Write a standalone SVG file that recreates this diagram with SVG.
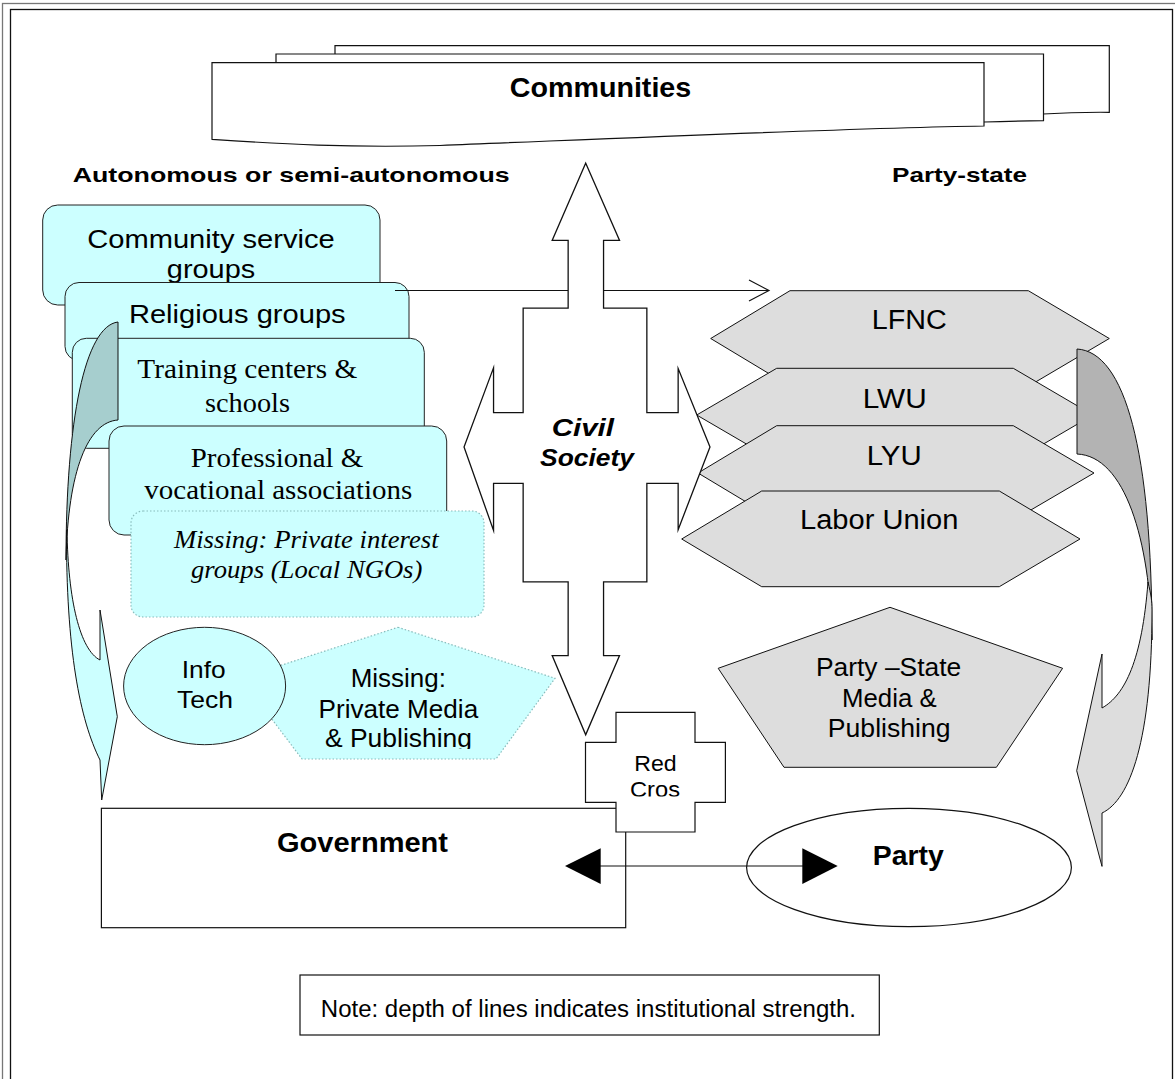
<svg xmlns="http://www.w3.org/2000/svg" width="1175" height="1079" viewBox="0 0 1175 1079">
<style>
.sans{font-family:"Liberation Sans",Arial,sans-serif;}
.serif{font-family:"Liberation Serif","Times New Roman",serif;}
.b{font-weight:bold;}
.i{font-style:italic;}
.cyan{fill:#ccffff;stroke:#222;stroke-width:1;}
.dot{fill:#ccffff;stroke:#88bcbc;stroke-width:1.2;stroke-dasharray:1.5 2;}
.gray{fill:#dddddd;stroke:#111;stroke-width:1;}
.white{fill:#ffffff;stroke:#111;stroke-width:1.2;}
.line{fill:none;stroke:#111;stroke-width:1.2;}
text{fill:#000;}
</style>
<defs>
<clipPath id="clipCros"><rect x="580" y="700" width="150" height="96.5"/></clipPath>
<clipPath id="clipPub"><rect x="230" y="620" width="340" height="129"/></clipPath>
<path id="crossShape" d="M585.7,167.7 L616.7,238.5 L601.7,238.5 L601.7,310 L645,310 L645,414.5 L680,414.5 L680,378 L708,447 L680,519.7 L680,481.5 L645,481.5 L645,580 L601.7,580 L601.7,657.5 L616.7,657.5 L585.7,730 L555,657.5 L570,657.5 L570,580 L525,580 L525,481.5 L491.7,481.5 L491.7,519.7 L466,447 L491.7,378 L491.7,414.5 L525,414.5 L525,310 L570,310 L570,238.5 L555,238.5 Z"/>
</defs>
<rect width="1175" height="1079" fill="#ffffff"/>
<g id="frame">
<rect x="2.5" y="3.5" width="1190" height="1100" fill="none" stroke="#777" stroke-width="1.3"/>
<rect x="10.5" y="9.5" width="1162" height="1090" fill="none" stroke="#111" stroke-width="1.3"/>
</g>
<g id="communities">
<path class="white" d="M335,45.7 H1109.3 V112.3 Q1075,112 1043,114 L335,114 Z"/>
<path class="white" d="M276,54 H1043.5 V120.7 Q1010,121 984,122 L276,122 Z"/>
<path class="white" d="M212,62.7 H984 V126 C850,128 650,137 440,145.5 C350,148 280,144 212,139.3 Z"/>
<text class="sans b" x="600.5" y="96.7" font-size="27" text-anchor="middle" textLength="181.5" lengthAdjust="spacingAndGlyphs">Communities</text>
</g>
<g id="heading-autonomous">
<text class="sans b" x="72.7" y="182" font-size="21" textLength="437" lengthAdjust="spacingAndGlyphs">Autonomous or semi-autonomous</text>
</g>
<g id="heading-partystate">
<text class="sans b" x="892" y="182" font-size="21" textLength="135" lengthAdjust="spacingAndGlyphs">Party-state</text>
</g>
<g id="community-service">
<rect class="cyan" x="42.7" y="205" width="337.3" height="100" rx="15"/>
<text class="sans" x="211" y="248" font-size="26" text-anchor="middle" textLength="247.7" lengthAdjust="spacingAndGlyphs">Community service</text>
<text class="sans" x="211" y="278" font-size="26" text-anchor="middle" textLength="88.3" lengthAdjust="spacingAndGlyphs">groups</text>
</g>
<g id="religious">
<rect class="cyan" x="65" y="282.5" width="344" height="78" rx="14"/>
<text class="sans" x="237.3" y="322.7" font-size="26" text-anchor="middle" textLength="216.7" lengthAdjust="spacingAndGlyphs">Religious groups</text>
</g>
<g id="training">
<rect class="cyan" x="72.3" y="338.3" width="352" height="110" rx="14"/>
<text class="serif" x="247.3" y="378.3" font-size="27" text-anchor="middle" textLength="220" lengthAdjust="spacingAndGlyphs">Training centers &amp;</text>
<text class="serif" x="247.5" y="411.7" font-size="27" text-anchor="middle" textLength="85" lengthAdjust="spacingAndGlyphs">schools</text>
</g>
<g id="professional">
<rect class="cyan" x="109" y="426" width="337.7" height="109" rx="15"/>
<text class="serif" x="277" y="466.7" font-size="27" text-anchor="middle" textLength="172.6" lengthAdjust="spacingAndGlyphs">Professional &amp;</text>
<text class="serif" x="278.3" y="499.3" font-size="27" text-anchor="middle" textLength="268" lengthAdjust="spacingAndGlyphs">vocational associations</text>
</g>
<g id="missing-interest">
<rect class="dot" x="131" y="511" width="353" height="106" rx="12"/>
<text class="serif i" x="306.3" y="548.3" font-size="25" text-anchor="middle" textLength="264.7" lengthAdjust="spacingAndGlyphs">Missing: Private interest</text>
<text class="serif i" x="306.7" y="578.3" font-size="25" text-anchor="middle" textLength="231.3" lengthAdjust="spacingAndGlyphs">groups (Local NGOs)</text>
</g>
<g id="lfnc">
<polygon class="gray" points="790,290.7 1028.3,290.7 1109.3,338.5 1028.3,386.3 790,386.3 710.7,338.5"/>
<text class="sans" x="909.2" y="329.3" font-size="27" text-anchor="middle" textLength="75" lengthAdjust="spacingAndGlyphs">LFNC</text>
</g>
<g id="lwu">
<polygon class="gray" points="776.7,368.3 1013.3,368.3 1093,415 1013.3,461.7 776.7,461.7 696.7,415"/>
<text class="sans" x="894.7" y="408.3" font-size="27" text-anchor="middle" textLength="64" lengthAdjust="spacingAndGlyphs">LWU</text>
</g>
<g id="lyu">
<polygon class="gray" points="776.7,425.7 1013.3,425.7 1094,473 1013.3,520.3 776.7,520.3 698,473"/>
<text class="sans" x="894.2" y="465" font-size="27" text-anchor="middle" textLength="55" lengthAdjust="spacingAndGlyphs">LYU</text>
</g>
<g id="labor-union">
<polygon class="gray" points="761.7,491 999.3,491 1080,539 999.3,586.7 761.7,586.7 681.7,539"/>
<text class="sans" x="879.2" y="529.3" font-size="27" text-anchor="middle" textLength="158.3" lengthAdjust="spacingAndGlyphs">Labor Union</text>
</g>
<g id="party-state-media">
<polygon class="gray" points="890,607.3 1062.6,668.3 996.4,767.3 784,767.3 718.2,668.3"/>
<text class="sans" x="888.6" y="676" font-size="25" text-anchor="middle" textLength="145.3" lengthAdjust="spacingAndGlyphs">Party –State</text>
<text class="sans" x="889.3" y="706.7" font-size="25" text-anchor="middle" textLength="94.6" lengthAdjust="spacingAndGlyphs">Media &amp;</text>
<text class="sans" x="889.2" y="736.7" font-size="25" text-anchor="middle" textLength="122.7" lengthAdjust="spacingAndGlyphs">Publishing</text>
</g>
<g id="missing-media">
<polygon class="dot" points="398,627.3 555,678.3 496,759 302,759 241,678.3"/>
<g clip-path="url(#clipPub)">
<text class="sans" x="398.3" y="687.3" font-size="25" text-anchor="middle" textLength="95.3" lengthAdjust="spacingAndGlyphs">Missing:</text>
<text class="sans" x="398.4" y="717.7" font-size="25" text-anchor="middle" textLength="159.6" lengthAdjust="spacingAndGlyphs">Private Media</text>
<text class="sans" x="398.5" y="747" font-size="25" text-anchor="middle" textLength="147" lengthAdjust="spacingAndGlyphs">&amp; Publishing</text>
</g>
</g>
<g id="info-tech">
<ellipse class="cyan" cx="204.6" cy="686" rx="81" ry="58.7"/>
<text class="sans" x="203.7" y="678.3" font-size="24" text-anchor="middle" textLength="43.9" lengthAdjust="spacingAndGlyphs">Info</text>
<text class="sans" x="205" y="707.7" font-size="24" text-anchor="middle" textLength="56" lengthAdjust="spacingAndGlyphs">Tech</text>
</g>
<g id="government">
<rect class="white" x="101.4" y="808.3" width="524.3" height="119.4"/>
<text class="sans b" x="362.5" y="851.7" font-size="27" text-anchor="middle" textLength="171" lengthAdjust="spacingAndGlyphs">Government</text>
</g>
<g id="party">
<ellipse class="white" cx="909" cy="867.5" rx="162.4" ry="59.2"/>
<text class="sans b" x="908.3" y="865" font-size="27" text-anchor="middle" textLength="71" lengthAdjust="spacingAndGlyphs">Party</text>
</g>
<g id="red-cross">
<path class="white" d="M616,712.3 H695 V742.3 H725.4 V802.3 H695 V832 H616 V802.3 H585.5 V742.3 H616 Z"/>
<g clip-path="url(#clipCros)">
<text class="sans" x="655.5" y="770.7" font-size="22" text-anchor="middle" textLength="42.4" lengthAdjust="spacingAndGlyphs">Red</text>
<text class="sans" x="655" y="796.7" font-size="22" text-anchor="middle" textLength="50" lengthAdjust="spacingAndGlyphs">Cros</text>
</g>
</g>
<g id="connectors">
<line class="line" x1="395" y1="290.5" x2="769" y2="290.5"/>
<polyline class="line" points="749,280 769,290.5 749,301"/>
<line class="line" x1="598" y1="866" x2="805" y2="866"/>
<polygon fill="#000" points="565,866 600.7,848.3 600.7,884"/>
<polygon fill="#000" points="837.7,866 802.3,848.3 802.3,884"/>
</g>
<g id="civil-society">
<use href="#crossShape" fill="#ffffff" stroke="#111" stroke-width="5" stroke-linejoin="miter" stroke-miterlimit="10"/>
<use href="#crossShape" fill="#ffffff" stroke="#ffffff" stroke-width="2.4" stroke-linejoin="miter" stroke-miterlimit="10"/>
<text class="sans b i" x="582.8" y="435.5" font-size="24" text-anchor="middle" textLength="62.3" lengthAdjust="spacingAndGlyphs">Civil</text>
<text class="sans b i" x="587" y="466" font-size="24" text-anchor="middle" textLength="94" lengthAdjust="spacingAndGlyphs">Society</text>
</g>
<g id="cycle-left">
<path d="M118,322 C85,326 66,420 66,560 C68,470 88,422 118,420 Z" fill="#a6cece" stroke="#111" stroke-width="1"/>
<path d="M66.5,530 C66,650 80,720 100,760 L101.7,800 L117.3,716.7 L100,610 L100,660 C80,650 68,600 67,530 Z" fill="#ccffff" stroke="#111" stroke-width="1"/>
</g>
<g id="cycle-right">
<path d="M1077,349 C1125,352 1152,450 1152,640 C1150,540 1125,456 1077,454 Z" fill="#b3b3b3" stroke="#111" stroke-width="1"/>
<path d="M1148,582 C1151,595 1152,600 1152,610 C1152,740 1130,800 1102,813 L1102,866.4 L1076.7,770.7 L1102,654 L1102,708 C1125,695 1142,660 1148,582 Z" fill="#dddddd" stroke="#111" stroke-width="1"/>
</g>
<g id="note">
<rect x="300" y="975" width="579.3" height="60" fill="#ffffff" stroke="#111" stroke-width="1.2"/>
<text class="sans" x="320.8" y="1017.3" font-size="23" textLength="535.2" lengthAdjust="spacingAndGlyphs">Note: depth of lines indicates institutional strength.</text>
</g>
</svg>
